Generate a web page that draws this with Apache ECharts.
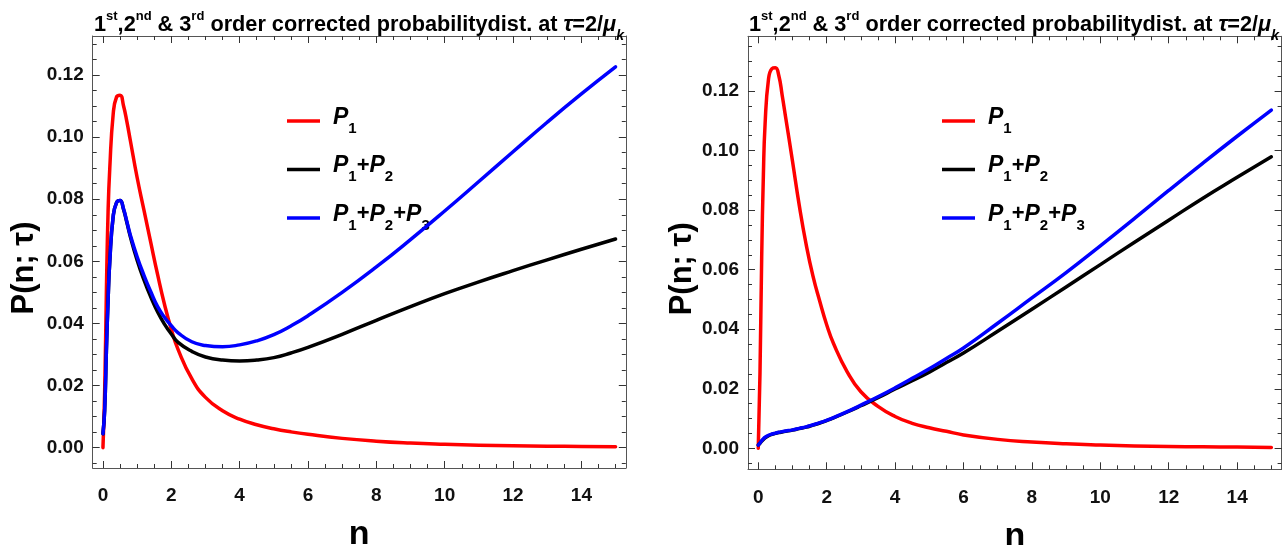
<!DOCTYPE html>
<html>
<head>
<meta charset="utf-8">
<script src="https://cdn.jsdelivr.net/npm/echarts@6/dist/echarts.min.js"></script>
<style>html,body{margin:0;padding:0;background:#fff;}#c{width:1284px;height:545px;}</style>
</head>
<body>
<div id="c"></div>
<script>
// ---- data ----
const nVals = [0,0.05,0.1,0.15,0.2,0.3,0.4,0.5,0.6,0.7,0.8,1.0,1.2,1.4,1.6,1.8,2.0,2.2,2.6,3.0,3.5,4.0,4.5,5.0,5.5,6,7,8,9,10,11,12,13,14,15];

const leftP1   = [0,0.018,0.050,0.076,0.090,0.1075,0.1130,0.1135,0.1102,0.1050,0.0990,0.0870,0.0765,0.0660,0.0557,0.0462,0.0381,0.0316,0.0222,0.0162,0.0119,0.0092,0.0074,0.0061,0.0051,0.0043,0.0030,0.0021,0.0015,0.0011,0.0008,0.0006,0.0005,0.0004,0.0003];
const leftP12  = [0.0045,0.012,0.031,0.0475,0.060,0.0745,0.0790,0.0796,0.0768,0.0725,0.0680,0.0604,0.0540,0.0485,0.0437,0.0398,0.0366,0.0339,0.0310,0.0292,0.0282,0.0279,0.0282,0.0290,0.0305,0.0323,0.0365,0.0410,0.0454,0.0496,0.0534,0.0570,0.0605,0.0639,0.0672];
const leftP123 = [0.0045,0.012,0.031,0.0475,0.060,0.0745,0.0790,0.0796,0.0770,0.0728,0.0685,0.0615,0.0555,0.0502,0.0454,0.0420,0.0393,0.0370,0.0341,0.0329,0.0325,0.0331,0.0344,0.0364,0.0392,0.0425,0.0500,0.0582,0.0670,0.0762,0.0857,0.0953,0.1048,0.1139,0.1226];

const rightP1   = [0,0.025,0.064,0.092,0.109,0.124,0.1275,0.1278,0.1252,0.1185,0.1112,0.0965,0.0815,0.0685,0.0578,0.0493,0.0415,0.0352,0.0257,0.0190,0.0141,0.0107,0.0084,0.0069,0.0057,0.0045,0.0030,0.0021,0.0015,0.0011,0.0008,0.0006,0.0005,0.0004,0.0003];
const rightP12  = [0.0011,0.0017,0.0024,0.0030,0.0035,0.0042,0.0047,0.0050,0.0053,0.0055,0.0057,0.0061,0.0066,0.0071,0.0078,0.0085,0.0093,0.0102,0.0122,0.0143,0.0170,0.0199,0.0227,0.0256,0.0288,0.0320,0.0393,0.0467,0.0542,0.0617,0.0692,0.0766,0.0840,0.0910,0.0979];
const rightP123 = [0.0011,0.0018,0.0026,0.0032,0.0037,0.0044,0.0048,0.0051,0.0054,0.0056,0.0058,0.0062,0.0067,0.0072,0.0079,0.0086,0.0094,0.0103,0.0123,0.0145,0.0173,0.0203,0.0235,0.0267,0.0302,0.0337,0.0420,0.0505,0.0590,0.0680,0.0772,0.0866,0.0958,0.1048,0.1136];

const seriesNames = ['P1','P1+P2','P1+P2+P3'];
const seriesColors = ['#ff0000','#000000','#0000ff'];
const xTickValues = [0,2,4,6,8,10,12,14];
const yTickValues = [0,0.02,0.04,0.06,0.08,0.10,0.12];
const titleText = '{m|1}{sup|st}{m|,2}{sup|nd}{m| & 3}{sup|rd}{m| order corrected probabilitydist. at }{it|τ}{m|=2/}{it|μ}{sub|k}';
const yTitle = 'P(n; τ)';
const xTitle = 'n';

// ---- layout ----
const FONT = "'Liberation Sans','Arial',sans-serif";
const frameColor = '#555';
const grids = [
  {left: 92.7, top: 36, width: 533.1, height: 432, xMin: -0.3, xMax: 15.3, yMin: -0.00654, yMax: 0.13256, nameGapY: 52.5, legendLeft: 287, titleLeft: 94},
  {left: 748, top: 36.3, width: 533.6, height: 433, xMin: -0.3, xMax: 15.3, yMin: -0.00705, yMax: 0.13837, nameGapY: 50.5, legendLeft: 942, titleLeft: 749}
];
const panelData = [[leftP1, leftP12, leftP123],[rightP1, rightP12, rightP123]];

function steps(a, b, s) { const out = []; for (let v = a; v <= b + 1e-9; v += s) out.push(+v.toFixed(4)); return out; }

const option = {animation: false, backgroundColor: '#fff', grid: [], xAxis: [], yAxis: [], series: [], title: [], legend: []};

grids.forEach((g, gi) => {
  option.grid.push({left: g.left, top: g.top, width: g.width, height: g.height, containLabel: false, outerBoundsMode: 'none'});
  const xMinor = steps(0, 15.0, 0.5);
  const yMinor = steps(-0.005, g.yMax, 0.005);
  const common = {gridIndex: gi, type: 'value', splitLine: {show: false}};
  const lineOn = {show: true, onZero: false, lineStyle: {color: frameColor, width: 1}};
  const lineOff = {show: false, onZero: false};
  const tickStyle = {color: '#333', width: 1};
  option.xAxis.push(Object.assign({}, common, {
    min: g.xMin, max: g.xMax, position: 'bottom', axisLine: lineOn,
    axisTick: {show: true, inside: true, length: 7, customValues: xTickValues, lineStyle: tickStyle},
    axisLabel: {show: true, customValues: xTickValues, margin: 18.5, fontFamily: FONT, fontWeight: 'bold', fontSize: 19, color: '#111', formatter: v => String(v)},
    name: xTitle, nameLocation: 'middle', nameGap: 50,
    nameTextStyle: {fontFamily: FONT, fontWeight: 'bold', fontSize: 34, color: '#000'}
  }));
  option.xAxis.push(Object.assign({}, common, {
    min: g.xMin, max: g.xMax, position: 'bottom', axisLine: lineOff,
    axisTick: {show: true, inside: true, length: 4, customValues: xMinor, lineStyle: tickStyle}, axisLabel: {show: false}
  }));
  option.xAxis.push(Object.assign({}, common, {
    min: g.xMin, max: g.xMax, position: 'top', axisLine: lineOn,
    axisTick: {show: true, inside: true, length: 7, customValues: xTickValues, lineStyle: tickStyle}, axisLabel: {show: false}
  }));
  option.xAxis.push(Object.assign({}, common, {
    min: g.xMin, max: g.xMax, position: 'top', axisLine: lineOff,
    axisTick: {show: true, inside: true, length: 4, customValues: xMinor, lineStyle: tickStyle}, axisLabel: {show: false}
  }));
  option.yAxis.push(Object.assign({}, common, {
    min: g.yMin, max: g.yMax, position: 'left', axisLine: lineOn,
    axisTick: {show: true, inside: true, length: 7, customValues: yTickValues, lineStyle: tickStyle},
    axisLabel: {show: true, customValues: yTickValues, margin: 9, fontFamily: FONT, fontWeight: 'bold', fontSize: 19, color: '#111', formatter: v => v.toFixed(2)},
    name: yTitle, nameLocation: 'middle', nameGap: g.nameGapY, nameRotate: 90,
    nameTextStyle: {fontFamily: FONT, fontWeight: 'bold', fontSize: 31, color: '#000', padding: [0, 32, 0, 0]}
  }));
  option.yAxis.push(Object.assign({}, common, {
    min: g.yMin, max: g.yMax, position: 'left', axisLine: lineOff,
    axisTick: {show: true, inside: true, length: 4, customValues: yMinor, lineStyle: tickStyle}, axisLabel: {show: false}
  }));
  option.yAxis.push(Object.assign({}, common, {
    min: g.yMin, max: g.yMax, position: 'right', axisLine: lineOn,
    axisTick: {show: true, inside: true, length: 7, customValues: yTickValues, lineStyle: tickStyle}, axisLabel: {show: false}
  }));
  option.yAxis.push(Object.assign({}, common, {
    min: g.yMin, max: g.yMax, position: 'right', axisLine: lineOff,
    axisTick: {show: true, inside: true, length: 4, customValues: yMinor, lineStyle: tickStyle}, axisLabel: {show: false}
  }));

  panelData[gi].forEach((vals, si) => {
    option.series.push({
      type: 'line', name: seriesNames[si], xAxisIndex: gi * 4, yAxisIndex: gi * 4,
      data: nVals.map((n, k) => [n, vals[k]]),
      showSymbol: false, symbol: 'none', smooth: 0.5,
      lineStyle: {color: seriesColors[si], width: 3.5, cap: 'round', join: 'round'},
      itemStyle: {color: seriesColors[si]},
      emphasis: {disabled: true}, z: 3 + si
    });
  });

  option.title.push({
    text: titleText, left: g.titleLeft, top: 3.5, padding: 0,
    textStyle: {
      fontFamily: FONT, fontWeight: 'bold', fontSize: 21.7, color: '#000', lineHeight: 44,
      rich: {
        m: {fontFamily: FONT, fontWeight: 'bold', fontSize: 21.7, lineHeight: 44, verticalAlign: 'middle', color: '#000'},
        it: {fontFamily: FONT, fontWeight: 'bold', fontStyle: 'italic', fontSize: 21.7, lineHeight: 44, verticalAlign: 'middle', color: '#000'},
        sup: {fontFamily: FONT, fontWeight: 'bold', fontSize: 13, verticalAlign: 'top', padding: [6.5, 0, 0, 0], color: '#000'},
        sub: {fontFamily: FONT, fontWeight: 'bold', fontStyle: 'italic', fontSize: 14, verticalAlign: 'bottom', padding: [0, 0, 4.5, 0], color: '#000'}
      }
    }
  });

  option.legend.push({
    orient: 'vertical', left: g.legendLeft, top: 106, padding: 0, icon: 'rect', itemWidth: 33, itemHeight: 3.5,
    itemGap: 18.5, data: seriesNames, selectedMode: false,
    formatter: name => '{g|}' + name.split('+').map(t => '{p|P}{s|' + t.slice(1) + '}').join('{o|+}'),
    textStyle: {
      color: '#000', fontSize: 22, lineHeight: 30,
      rich: {
        g: {width: 8},
        p: {fontFamily: FONT, fontWeight: 'bold', fontStyle: 'italic', fontSize: 23, lineHeight: 28, verticalAlign: 'top', color: '#000'},
        o: {fontFamily: FONT, fontWeight: 'bold', fontSize: 22, lineHeight: 28, verticalAlign: 'top', color: '#000'},
        s: {fontFamily: FONT, fontWeight: 'bold', fontSize: 15, lineHeight: 18, verticalAlign: 'bottom', color: '#000'}
      }
    }
  });
});

const chart = echarts.init(document.getElementById('c'), null, {renderer: 'canvas'});
chart.setOption(option);
</script>
</body>
</html>
